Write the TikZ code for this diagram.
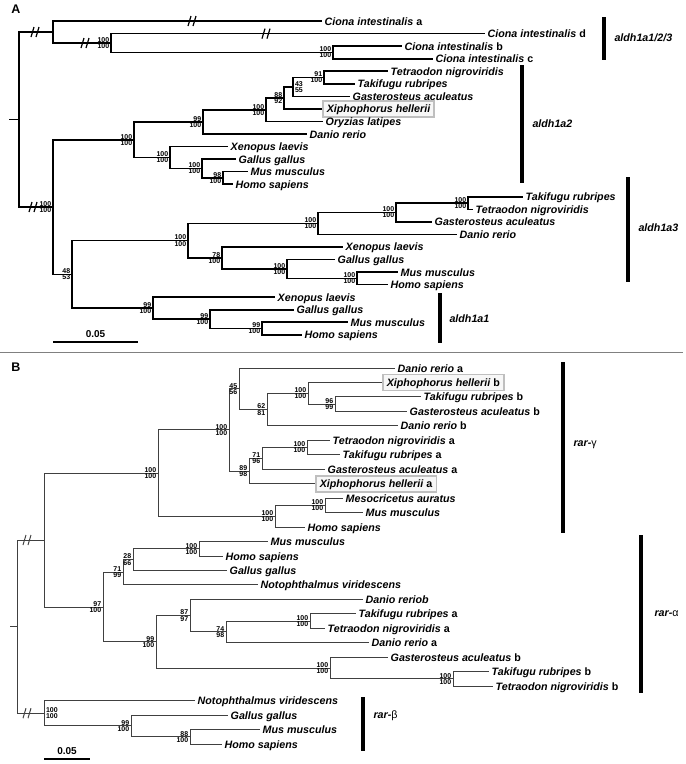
\documentclass[tikz,border=0pt]{standalone}
\usepackage{fontspec}
\setmainfont{Liberation Sans}
\usetikzlibrary{positioning}

% support values (upper/lower), left of a node
\newcommand{\bsup}[3]{%
  \node[bval, anchor=south east] (#1-t) at (#1) {#2};
  \node[bval, anchor=north east] (#1-b) at (#1) {#3};}
% support values, right of a node
\newcommand{\bsupr}[3]{%
  \node[bvalr, anchor=south west] (#1-t) at (#1) {#2};
  \node[bvalr, anchor=north west] (#1-b) at (#1) {#3};}

\begin{document}
\begin{tikzpicture}[
  x=1pt, y=-1pt,
  brA/.style={line width=1.6pt},
  brB/.style={line width=1pt, black!75},
  leaf/.style={anchor=west, inner xsep=2.5pt, inner ysep=0.5pt, text height=8pt, text depth=0pt,
               font=\fontsize{10.7}{12}\selectfont\bfseries\itshape},
  xbox/.style={leaf, draw=black!25, line width=1.6pt, fill=black!3, inner xsep=4pt, inner ysep=4pt},
  bval/.style={inner sep=0.4pt, xshift=-1.2pt, font=\fontsize{7}{8}\selectfont\bfseries},
  bvalr/.style={inner sep=0.4pt, xshift=1.5pt, font=\fontsize{7}{8}\selectfont\bfseries},
  grpbar/.style={line width=4pt},
  grplab/.style={anchor=west, font=\fontsize{10.7}{12}\selectfont\bfseries\itshape},
  panel/.style={font=\fontsize{12.5}{14}\selectfont\bfseries},
  scalelab/.style={font=\fontsize{10}{12}\selectfont\bfseries, anchor=south, inner sep=1pt},
  brk/.pic={\draw (-4,5) -- (-1,-5) (1,5) -- (4,-5);},
]
\useasboundingbox (0,0) rectangle (686,764);

% ================= Panel A: aldh1a =================
\node[panel] (labA) at (16,9) {A};

% internal nodes
\coordinate (stubA) at (9,119.5);
\coordinate (rootA) at (19,119.5);
\coordinate (cioA)  at (53,32);
\coordinate (cibcd) at (111,43);
\coordinate (cibc)  at (333,52.4);
\coordinate (grpA)  at (53,207);
\coordinate (a2)    at (134,139.7);
\coordinate (n99)   at (203,121.9);
\coordinate (n100a) at (266,109.7);
\coordinate (n88)   at (284,98);
\coordinate (n43)   at (293,87);
\coordinate (ttA)   at (324,77.5);
\coordinate (nxA)   at (170,157.5);
\coordinate (ngA)   at (202,168.5);
\coordinate (nmhA)  at (223,177.9);
\coordinate (n48)   at (72,274.4);
\coordinate (a3)    at (188,240.6);
\coordinate (db3)   at (318,223.4);
\coordinate (gb3)   at (396,212.4);
\coordinate (tt3)   at (468,203);
\coordinate (x3)    at (222,257.9);
\coordinate (g3)    at (287,268.9);
\coordinate (mh3)   at (357,278.3);
\coordinate (a1)    at (153,308.1);
\coordinate (g1)    at (210,319.1);
\coordinate (mh1)   at (262,328.5);

% leaves: Ciona
\node[leaf] (ciA) at (322,21.0) {Ciona intestinalis \textup{a}};
\node[leaf] (ciD) at (485,33.6) {Ciona intestinalis \textup{d}};
\node[leaf] (ciB) at (402,46.1) {Ciona intestinalis \textup{b}};
\node[leaf] (ciC) at (433,58.7) {Ciona intestinalis \textup{c}};
% leaves: aldh1a2
\node[leaf] (tnA2) at (388,71.2)  {Tetraodon nigroviridis};
\node[leaf] (trA2) at (355,83.8)  {Takifugu rubripes};
\node[leaf] (gaA2) at (350,96.3)  {Gasterosteus aculeatus};
\node[xbox] (xhA2) at (322,108.9) {Xiphophorus hellerii};
\node[leaf] (olA2) at (323,121.4) {Oryzias latipes};
\node[leaf] (drA2) at (307,134.0) {Danio rerio};
\node[leaf] (xlA2) at (228,146.5) {Xenopus laevis};
\node[leaf] (ggA2) at (236,159.1) {Gallus gallus};
\node[leaf] (mmA2) at (248,171.6) {Mus musculus};
\node[leaf] (hsA2) at (233,184.2) {Homo sapiens};
% leaves: aldh1a3
\node[leaf] (trA3) at (523,196.7) {Takifugu rubripes};
\node[leaf] (tnA3) at (473,209.3) {Tetraodon nigroviridis};
\node[leaf] (gaA3) at (432,221.8) {Gasterosteus aculeatus};
\node[leaf] (drA3) at (457,234.4) {Danio rerio};
\node[leaf] (xlA3) at (343,246.9) {Xenopus laevis};
\node[leaf] (ggA3) at (335,259.5) {Gallus gallus};
\node[leaf] (mmA3) at (398,272.0) {Mus musculus};
\node[leaf] (hsA3) at (388,284.6) {Homo sapiens};
% leaves: aldh1a1
\node[leaf] (xlA1) at (275,297.1) {Xenopus laevis};
\node[leaf] (ggA1) at (294,309.7) {Gallus gallus};
\node[leaf] (mmA1) at (348,322.2) {Mus musculus};
\node[leaf] (hsA1) at (302,334.8) {Homo sapiens};

% branches
\draw[brA] (stubA) -- (rootA);
\draw[brA] (rootA) |- (cioA) (rootA) |- (grpA);
\draw[brA] (cioA) |- (ciA) (cioA) |- (cibcd);
\draw[brA] (cibcd) |- (ciD) (cibcd) |- (cibc);
\draw[brA] (cibc) |- (ciB) (cibc) |- (ciC);
\draw[brA] (grpA) |- (a2) (grpA) |- (n48);
\draw[brA] (a2) |- (n99) (a2) |- (nxA);
\draw[brA] (n99) |- (n100a) (n99) |- (drA2);
\draw[brA] (n100a) |- (n88) (n100a) |- (olA2);
\draw[brA] (n88) |- (n43) (n88) |- (xhA2);
\draw[brA] (n43) |- (ttA) (n43) |- (gaA2);
\draw[brA] (ttA) |- (tnA2) (ttA) |- (trA2);
\draw[brA] (nxA) |- (xlA2) (nxA) |- (ngA);
\draw[brA] (ngA) |- (ggA2) (ngA) |- (nmhA);
\draw[brA] (nmhA) |- (mmA2) (nmhA) |- (hsA2);
\draw[brA] (n48) |- (a3) (n48) |- (a1);
\draw[brA] (a3) |- (db3) (a3) |- (x3);
\draw[brA] (db3) |- (gb3) (db3) |- (drA3);
\draw[brA] (gb3) |- (tt3) (gb3) |- (gaA3);
\draw[brA] (tt3) |- (trA3) (tt3) |- (tnA3);
\draw[brA] (x3) |- (xlA3) (x3) |- (g3);
\draw[brA] (g3) |- (ggA3) (g3) |- (mh3);
\draw[brA] (mh3) |- (mmA3) (mh3) |- (hsA3);
\draw[brA] (a1) |- (xlA1) (a1) |- (g1);
\draw[brA] (g1) |- (ggA1) (g1) |- (mh1);
\draw[brA] (mh1) |- (mmA1) (mh1) |- (hsA1);

% broken branches
\pic[brA, line width=1.2pt] at (35,32) {brk};
\pic[brA, line width=1.2pt] at (192,21) {brk};
\pic[brA, line width=1.2pt] at (85,43) {brk};
\pic[brA, line width=1.2pt] at (266,33.6) {brk};
\pic[brA, line width=1.2pt] at (33,207) {brk};

% support values
\bsup{cibcd}{100}{100}
\bsup{cibc}{100}{100}
\bsup{grpA}{100}{100}
\bsup{a2}{100}{100}
\bsup{n99}{99}{100}
\bsup{n100a}{100}{100}
\bsup{n88}{88}{92}
\bsupr{n43}{43}{55}
\bsup{ttA}{91}{100}
\bsup{nxA}{100}{100}
\bsup{ngA}{100}{100}
\bsup{nmhA}{98}{100}
\bsup{n48}{48}{53}
\bsup{a3}{100}{100}
\bsup{db3}{100}{100}
\bsup{gb3}{100}{100}
\bsup{tt3}{100}{100}
\bsup{x3}{78}{100}
\bsup{g3}{100}{100}
\bsup{mh3}{100}{100}
\bsup{a1}{99}{100}
\bsup{g1}{99}{100}
\bsup{mh1}{99}{100}

% gene groups
\draw[grpbar] (604,17) -- (604,60);
\node[grplab] (gA123) at (611,38) {aldh1a1/2/3};
\draw[grpbar] (522,65) -- (522,183);
\node[grplab] (gA2) at (529,124) {aldh1a2};
\draw[grpbar] (628,177) -- (628,282);
\node[grplab] (gA3) at (635,228) {aldh1a3};
\draw[grpbar] (440,293) -- (440,343);
\node[grplab] (gA1) at (446,319) {aldh1a1};

% scale bar
\coordinate (sbA1) at (53,342);
\coordinate (sbA2) at (138,342);
\draw[brA] (sbA1) -- (sbA2);
\node[scalelab] (sbAl) at (95.5,339) {0.05};

% separator
\coordinate (sepL) at (0,352);
\coordinate (sepR) at (683,352);
\draw[black!50, line width=0.9pt] (sepL) -- (sepR);

% ================= Panel B: rar =================
\node[panel] (labB) at (16,367) {B};

% internal nodes
\coordinate (stubB) at (10,626.6);
\coordinate (rootB) at (17,626.6);
\coordinate (topB)  at (44,540);
\coordinate (gam)   at (158,473);
\coordinate (n100c) at (229,429.9);
\coordinate (n45)   at (239,388.8);
\coordinate (n62)   at (267,409.6);
\coordinate (x100)  at (308,393.3);
\coordinate (tg96)  at (335,404.2);
\coordinate (n89)   at (249,471);
\coordinate (n71)   at (262,458.4);
\coordinate (tt100) at (307,447.5);
\coordinate (mam)   at (275,516.2);
\coordinate (mm)    at (325,505.4);
\coordinate (n97)   at (103,607);
\coordinate (n71b)  at (123,572.2);
\coordinate (n28)   at (133,559.6);
\coordinate (mh2)   at (199,548.8);
\coordinate (n99b)  at (156,641.8);
\coordinate (n87)   at (190,615.6);
\coordinate (n74)   at (226,631.9);
\coordinate (tt2)   at (310,621);
\coordinate (gb2)   at (330,668);
\coordinate (tt3b)  at (453,678.9);
\coordinate (beta)  at (44,713.2);
\coordinate (g4)    at (131,725.9);
\coordinate (mh4)   at (190,736.8);

% leaves: rar-gamma
\node[leaf] (drG1) at (395,368.0) {Danio rerio \textup{a}};
\node[xbox] (xhG1) at (382,382.5) {Xiphophorus hellerii \textup{b}};
\node[leaf] (trG1) at (421,396.9) {Takifugu rubripes \textup{b}};
\node[leaf] (gaG1) at (407,411.4) {Gasterosteus aculeatus \textup{b}};
\node[leaf] (drG2) at (398,425.8) {Danio rerio \textup{b}};
\node[leaf] (tnG)  at (330,440.3) {Tetraodon nigroviridis \textup{a}};
\node[leaf] (trG2) at (340,454.8) {Takifugu rubripes \textup{a}};
\node[leaf] (gaG2) at (325,469.2) {Gasterosteus aculeatus \textup{a}};
\node[xbox] (xhG2) at (315,483.7) {Xiphophorus hellerii \textup{a}};
\node[leaf] (maG)  at (343,498.1) {Mesocricetus auratus};
\node[leaf] (mmG)  at (363,512.6) {Mus musculus};
\node[leaf] (hsG)  at (305,527.1) {Homo sapiens};
% leaves: rar-alpha
\node[leaf] (mmAl)  at (268,541.5) {Mus musculus};
\node[leaf] (hsAl)  at (223,556.0) {Homo sapiens};
\node[leaf] (ggAl)  at (227,570.4) {Gallus gallus};
\node[leaf] (nvAl)  at (258,584.9) {Notophthalmus viridescens};
\node[leaf] (drAl1) at (363,599.4) {Danio reriob};
\node[leaf] (trAl1) at (356,613.8) {Takifugu rubripes \textup{a}};
\node[leaf] (tnAl1) at (325,628.3) {Tetraodon nigroviridis \textup{a}};
\node[leaf] (drAl2) at (369,642.7) {Danio rerio \textup{a}};
\node[leaf] (gaAl)  at (388,657.2) {Gasterosteus aculeatus \textup{b}};
\node[leaf] (trAl2) at (489,671.7) {Takifugu rubripes \textup{b}};
\node[leaf] (tnAl2) at (493,686.1) {Tetraodon nigroviridis \textup{b}};
% leaves: rar-beta
\node[leaf] (nvBe) at (195,700.6) {Notophthalmus viridescens};
\node[leaf] (ggBe) at (228,715.0) {Gallus gallus};
\node[leaf] (mmBe) at (260,729.5) {Mus musculus};
\node[leaf] (hsBe) at (222,744.0) {Homo sapiens};

% branches
\draw[brB] (stubB) -- (rootB);
\draw[brB] (rootB) |- (topB) (rootB) |- (beta);
\draw[brB] (topB) |- (gam) (topB) |- (n97);
\draw[brB] (gam) |- (n100c) (gam) |- (mam);
\draw[brB] (n100c) |- (n45) (n100c) |- (n89);
\draw[brB] (n45) |- (drG1) (n45) |- (n62);
\draw[brB] (n62) |- (x100) (n62) |- (drG2);
\draw[brB] (x100) |- (xhG1) (x100) |- (tg96);
\draw[brB] (tg96) |- (trG1) (tg96) |- (gaG1);
\draw[brB] (n89) |- (n71) (n89) |- (xhG2);
\draw[brB] (n71) |- (tt100) (n71) |- (gaG2);
\draw[brB] (tt100) |- (tnG) (tt100) |- (trG2);
\draw[brB] (mam) |- (mm) (mam) |- (hsG);
\draw[brB] (mm) |- (maG) (mm) |- (mmG);
\draw[brB] (n97) |- (n71b) (n97) |- (n99b);
\draw[brB] (n71b) |- (n28) (n71b) |- (nvAl);
\draw[brB] (n28) |- (mh2) (n28) |- (ggAl);
\draw[brB] (mh2) |- (mmAl) (mh2) |- (hsAl);
\draw[brB] (n99b) |- (n87) (n99b) |- (gb2);
\draw[brB] (n87) |- (drAl1) (n87) |- (n74);
\draw[brB] (n74) |- (tt2) (n74) |- (drAl2);
\draw[brB] (tt2) |- (trAl1) (tt2) |- (tnAl1);
\draw[brB] (gb2) |- (gaAl) (gb2) |- (tt3b);
\draw[brB] (tt3b) |- (trAl2) (tt3b) |- (tnAl2);
\draw[brB] (beta) |- (nvBe) (beta) |- (g4);
\draw[brB] (g4) |- (ggBe) (g4) |- (mh4);
\draw[brB] (mh4) |- (mmBe) (mh4) |- (hsBe);

% broken branches
\pic[brB] at (27,540) {brk};
\pic[brB] at (27,713.2) {brk};

% support values
\bsup{gam}{100}{100}
\bsup{n100c}{100}{100}
\bsup{n45}{45}{56}
\bsup{n62}{62}{81}
\bsup{x100}{100}{100}
\bsup{tg96}{96}{99}
\bsup{n89}{89}{98}
\bsup{n71}{71}{96}
\bsup{tt100}{100}{100}
\bsup{mam}{100}{100}
\bsup{mm}{100}{100}
\bsup{n97}{97}{100}
\bsup{n71b}{71}{99}
\bsup{n28}{28}{66}
\bsup{mh2}{100}{100}
\bsup{n99b}{99}{100}
\bsup{n87}{87}{97}
\bsup{n74}{74}{98}
\bsup{tt2}{100}{100}
\bsup{gb2}{100}{100}
\bsup{tt3b}{100}{100}
\bsupr{beta}{100}{100}
\bsup{g4}{99}{100}
\bsup{mh4}{88}{100}

% gene groups
\draw[grpbar] (563,362) -- (563,533);
\node[grplab] (gRg) at (570,445) {rar-\textup{\mdseries γ}};
\draw[grpbar] (641,535) -- (641,693);
\node[grplab] (gRa) at (651,614) {rar-\textup{\mdseries α}};
\draw[grpbar] (363,697) -- (363,751);
\node[grplab] (gRb) at (370,716) {rar-\textup{\mdseries β}};

% scale bar
\coordinate (sbB1) at (44,759);
\coordinate (sbB2) at (90,759);
\draw[brA] (sbB1) -- (sbB2);
\node[scalelab] (sbBl) at (67,756) {0.05};

\end{tikzpicture}
\end{document}
